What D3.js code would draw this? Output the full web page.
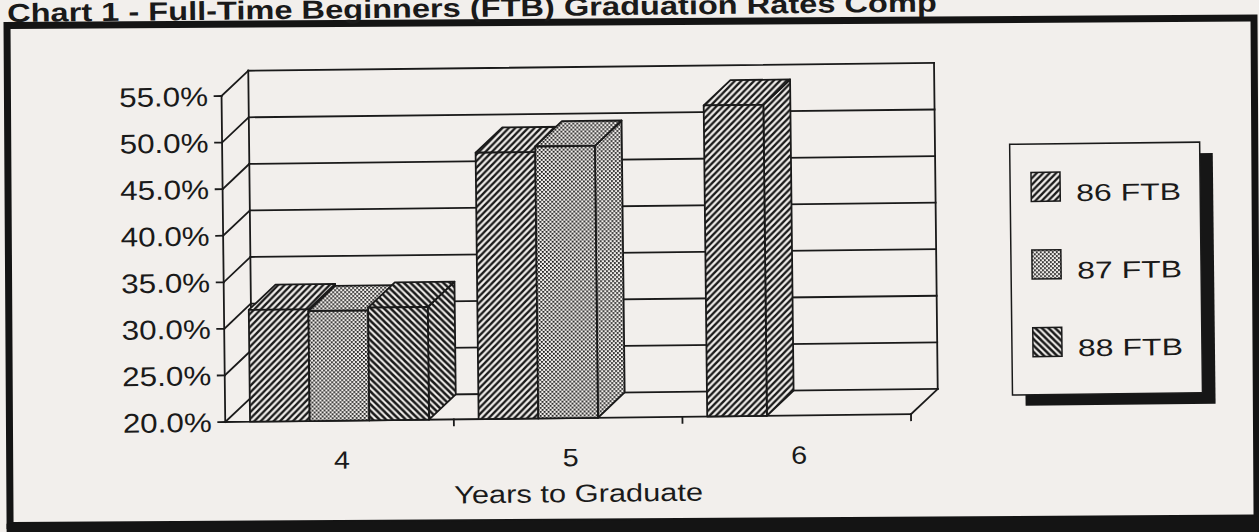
<!DOCTYPE html>
<html><head><meta charset="utf-8">
<script src="https://cdn.jsdelivr.net/npm/d3@7"></script>
<style>html,body{margin:0;padding:0;background:#f2efec;} svg{display:block}</style>
</head><body>
<svg id="c" width="1259" height="532"></svg>
<script>
// ---- data ----
const categories = ["4", "5", "6"];
const seriesNames = ["86 FTB", "87 FTB", "88 FTB"];
const values86 = [32.0, 48.6, 53.4];
const values87 = [31.8, 49.2, null];
const values88 = [32.1, null, null];
const yTicks = [20, 25, 30, 35, 40, 45, 50, 55];
const yTickLabels = ["20.0%", "25.0%", "30.0%", "35.0%", "40.0%", "45.0%", "50.0%", "55.0%"];
const titleText = "Chart 1 - Full-Time Beginners (FTB) Graduation Rates Comp";
const xTitle = "Years to Graduate";

const seriesValues = [values86, values87, values88];
const patternIds = ["p86", "p87", "p88"];

const W = 1259, H = 532;
const PAPER = "#f2efec", INK = "#1a1a1a";
const FONT = "'Liberation Sans', Arial, Helvetica, sans-serif";

const svg = d3.select("#c");
svg.append("rect").attr("width", W).attr("height", H).attr("fill", PAPER);

// patterns
const defs = svg.append("defs");
const P = 6.5;
const p86 = defs.append("pattern").attr("id", "p86").attr("patternUnits", "userSpaceOnUse")
  .attr("width", P).attr("height", P);
p86.append("rect").attr("width", P).attr("height", P).attr("fill", PAPER);
p86.append("path").attr("d", `M0,${P} L${P},0 M-1,1 L1,-1 M${P-1},${P+1} L${P+1},${P-1}`)
  .attr("stroke", INK).attr("stroke-width", 2.4);
const p88 = defs.append("pattern").attr("id", "p88").attr("patternUnits", "userSpaceOnUse")
  .attr("width", P).attr("height", P);
p88.append("rect").attr("width", P).attr("height", P).attr("fill", PAPER);
p88.append("path").attr("d", `M0,0 L${P},${P} M-1,${P-1} L1,${P+1} M${P-1},-1 L${P+1},1`)
  .attr("stroke", INK).attr("stroke-width", 2.5);
const p87 = defs.append("pattern").attr("id", "p87").attr("patternUnits", "userSpaceOnUse")
  .attr("width", 4).attr("height", 4);
p87.append("rect").attr("width", 4).attr("height", 4).attr("fill", PAPER);
p87.append("rect").attr("x", 0).attr("y", 0).attr("width", 1.8).attr("height", 1.8).attr("fill", INK);
p87.append("rect").attr("x", 2).attr("y", 2).attr("width", 1.8).attr("height", 1.8).attr("fill", INK);

// frame
const frame = svg.append("g").attr("transform", "rotate(-0.35,630,266)");
frame.append("rect").attr("x", 8.5).attr("y", 21.8).attr("width", 1247).attr("height", 500)
  .attr("fill", "none").attr("stroke", "#141414").attr("stroke-width", 7);
frame.append("rect").attr("x", 5).attr("y", 520).attr("width", 1270).attr("height", 40).attr("fill", "#141414");

// chart group (scan is slightly rotated)
const g = svg.append("g").attr("transform", "rotate(-0.65,630,266)");

function stretchText(sel, sx) {
  sel.each(function () {
    const t = d3.select(this);
    const x = +t.attr("data-x"), y = +t.attr("data-y");
    t.attr("transform", `translate(${x},${y}) scale(${sx},1)`);
  });
}

// title
const title = g.append("text").attr("x", 0).attr("y", 0)
  .attr("font-family", FONT).attr("font-weight", "bold").attr("font-size", 26)
  .attr("fill", INK).text(titleText);
{
  const w = title.node().getComputedTextLength();
  title.attr("transform", `translate(10,15) scale(${930 / w},1)`);
}

const x0 = d3.scaleBand().domain(categories).range([223.5, 909.3]);
const groupFrac = 0.783;
const x1 = d3.scaleBand().domain(seriesNames).range([0, x0.bandwidth() * groupFrac]);
const groupOff = x0.bandwidth() * (1 - groupFrac) / 2;
const y = d3.scaleLinear().domain([20, 55]).range([417.4, 91.4]);
const DX = 27, DY = -25;
const xL = x0.range()[0], xR = x0.range()[1];

const lines = g.append("g").attr("stroke", INK).attr("stroke-width", 1.8).attr("fill", "none")
  .attr("stroke-linecap", "square");
const ln = (a, b, c, d) => lines.append("line").attr("x1", a).attr("y1", b).attr("x2", c).attr("y2", d);

// back wall gridlines & left wall diagonals & y ticks
yTicks.forEach(t => {
  ln(xL + DX, y(t) + DY, xR + DX, y(t) + DY);
  ln(xL, y(t), xL + DX, y(t) + DY);
  ln(xL - 7, y(t), xL, y(t));
});
ln(xL + DX, y(20) + DY, xL + DX, y(55) + DY);
ln(xR + DX, y(20) + DY, xR + DX, y(55) + DY);
ln(xL, y(20), xL, y(55));
ln(xL, y(20), xR, y(20));
ln(xR, y(20), xR + DX, y(20) + DY);
categories.forEach(c => {
  const xe = x0(c) + x0.bandwidth();
  ln(xe, y(20), xe, y(20) + 6);
});

// bars
const bars = g.append("g").attr("stroke", INK).attr("stroke-width", 1.8).attr("stroke-linejoin", "round");
categories.forEach((c, i) => {
  seriesNames.forEach((s, j) => {
    const v = seriesValues[j][i];
    if (v == null) return;
    const bx = x0(c) + groupOff + x1(s), bw = x1.bandwidth();
    const yt = y(v), yb = y(20);
    const fill = `url(#${patternIds[j]})`;
    bars.append("polygon").attr("fill", fill)
      .attr("points", [[bx + bw, yt], [bx + bw + DX, yt + DY], [bx + bw + DX, yb + DY], [bx + bw, yb]].join(" "));
    bars.append("polygon").attr("fill", fill)
      .attr("points", [[bx, yt], [bx + DX, yt + DY], [bx + bw + DX, yt + DY], [bx + bw, yt]].join(" "));
    bars.append("rect").attr("fill", fill).attr("x", bx).attr("y", yt).attr("width", bw).attr("height", yb - yt);
  });
});

// y labels
const yl = g.append("g").attr("font-family", FONT).attr("font-size", 27).attr("fill", INK).attr("text-anchor", "end");
const ylab = yl.selectAll("text").data(yTicks).join("text")
  .attr("data-x", 210).attr("data-y", t => y(t) + 9.7)
  .text((t, i) => yTickLabels[i]);
{
  const w = ylab.nodes()[ylab.size() - 1].getComputedTextLength();
  stretchText(ylab, 89 / w);
}

// x labels
const xl = g.append("g").attr("font-family", FONT).attr("font-size", 25).attr("fill", INK).attr("text-anchor", "middle");
const xlab = xl.selectAll("text").data(categories).join("text")
  .attr("data-x", c => x0(c) + x0.bandwidth() / 2 + 2).attr("data-y", 465.5).text(c => c);
stretchText(xlab, 1.15);
const xt = g.append("text").attr("font-family", FONT).attr("font-size", 25).attr("fill", INK)
  .attr("text-anchor", "middle").attr("data-x", 576).attr("data-y", 501.4).text(xTitle);
{
  const w = xt.node().getComputedTextLength();
  stretchText(xt, 249 / w);
}

// legend
const lg = g.append("g");
const LX = 1011, LY = 148.6, LW = 190, LH = 250.7;
lg.append("rect").attr("x", LX + 13).attr("y", LY + 11).attr("width", LW).attr("height", LH).attr("fill", "#161616");
lg.append("rect").attr("x", LX).attr("y", LY).attr("width", LW).attr("height", LH)
  .attr("fill", PAPER).attr("stroke", INK).attr("stroke-width", 1.5);
const itemBase = [206, 283.6, 361.2];
seriesNames.forEach((s, j) => {
  const b = itemBase[j];
  lg.append("rect").attr("x", 1032).attr("y", b - 29).attr("width", 29).attr("height", 29)
    .attr("fill", `url(#${patternIds[j]})`).attr("stroke", INK).attr("stroke-width", 1.5);
  const t = lg.append("text").attr("font-family", FONT).attr("font-size", 24).attr("fill", INK)
    .attr("data-x", 1077).attr("data-y", b).text(s);
  const w = t.node().getComputedTextLength();
  stretchText(t, 105 / w);
});
</script>
</body></html>
